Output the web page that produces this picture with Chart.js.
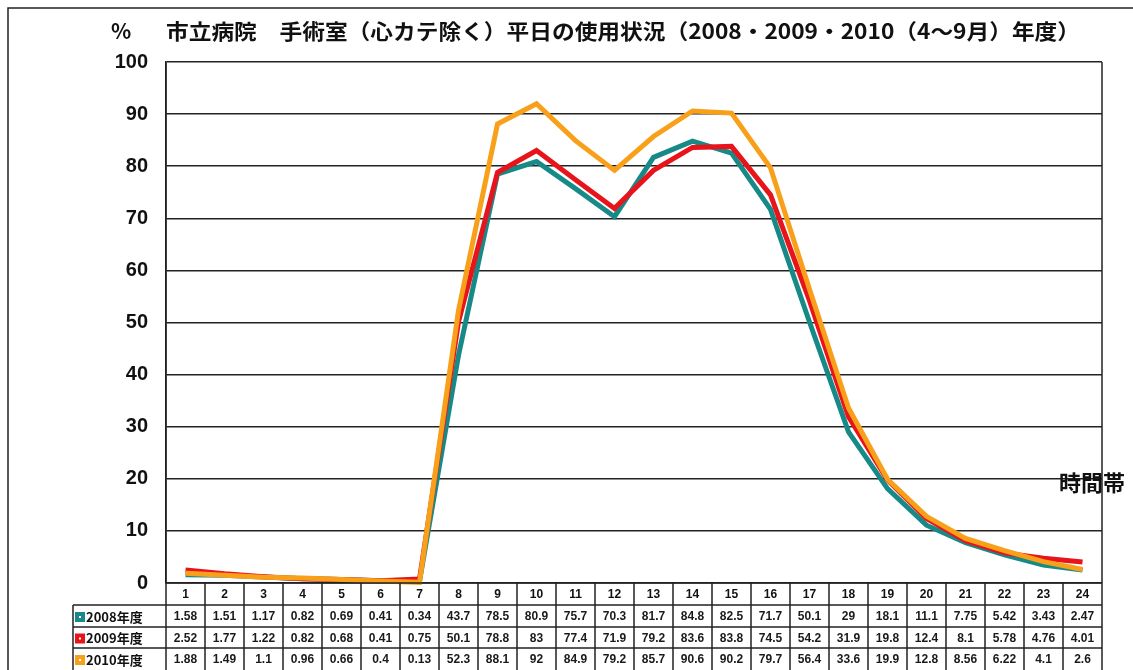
<!DOCTYPE html>
<html><head><meta charset="utf-8">
<script src="https://cdn.jsdelivr.net/npm/chart.js@4/dist/chart.umd.min.js"></script>
<style>html,body{margin:0;padding:0;background:#fff;}canvas{display:block;}</style>
</head><body>
<canvas id="c" width="1133" height="670"></canvas>
<script>
const hours = ['1','2','3','4','5','6','7','8','9','10','11','12','13','14','15','16','17','18','19','20','21','22','23','24'];
const y2008 = [1.58,1.51,1.17,0.82,0.69,0.41,0.34,43.7,78.5,80.9,75.7,70.3,81.7,84.8,82.5,71.7,50.1,29,18.1,11.1,7.75,5.42,3.43,2.47];
const y2009 = [2.52,1.77,1.22,0.82,0.68,0.41,0.75,50.1,78.8,83,77.4,71.9,79.2,83.6,83.8,74.5,54.2,31.9,19.8,12.4,8.1,5.78,4.76,4.01];
const y2010 = [1.88,1.49,1.1,0.96,0.66,0.4,0.13,52.3,88.1,92,84.9,79.2,85.7,90.6,90.2,79.7,56.4,33.6,19.9,12.8,8.56,6.22,4.1,2.6];
const seriesNames = ['2008年度','2009年度','2010年度'];
const seriesColors = ['#178a88','#e8141c','#f8a01a'];
const titleUnit = '%';
const titleText = '市立病院　手術室（心カテ除く）平日の使用状況（2008・2009・2010（4～9月）年度）';
const xAxisTitle = '時間帯';
const yTicks = [0,10,20,30,40,50,60,70,80,90,100];

const seriesData = [y2008, y2009, y2010];
const fmt = v => String(v);

const tablePlugin = {
  id: 'tablePlugin',
  afterDraw(chart) {
    const ctx = chart.ctx;
    const ca = chart.chartArea;
    const xs = chart.scales.x;
    const n = hours.length;
    const colW = (ca.right - ca.left) / n;
    const top = ca.bottom;
    const rowY = [top, top + 22, top + 44, top + 65, 670];
    ctx.save();
    ctx.strokeStyle = '#222';
    ctx.lineWidth = 1.5;
    ctx.beginPath();
    ctx.moveTo(8, 670); ctx.lineTo(8, 8); ctx.lineTo(1133, 8);
    ctx.stroke();
    ctx.beginPath();
    ctx.moveTo(ca.right, ca.top); ctx.lineTo(ca.right, 670);
    ctx.stroke();
    ctx.beginPath();
    ctx.moveTo(ca.left, ca.top); ctx.lineTo(ca.left, 670);
    ctx.stroke();
    const labelLeft = 73;
    ctx.beginPath();
    ctx.moveTo(ca.left, rowY[0]); ctx.lineTo(ca.right, rowY[0]);
    for (let r = 1; r < 4; r++) { ctx.moveTo(labelLeft, rowY[r]); ctx.lineTo(ca.right, rowY[r]); }
    ctx.moveTo(labelLeft, rowY[1]); ctx.lineTo(labelLeft, 670);
    for (let i = 1; i < n; i++) {
      const x = ca.left + i * colW;
      ctx.moveTo(x, rowY[0]); ctx.lineTo(x, 670);
    }
    ctx.stroke();
    ctx.fillStyle = '#111';
    ctx.textAlign = 'center';
    ctx.textBaseline = 'middle';
    ctx.font = 'bold 12px "Liberation Sans", Arial, sans-serif';
    hours.forEach((h, i) => {
      const x = xs.getPixelForValue(i);
      ctx.fillText(h, x, (rowY[0] + rowY[1]) / 2 + 1);
    });
    const valFont = 'bold 12px "Liberation Sans", Arial, sans-serif';
    ctx.font = valFont;
    seriesData.forEach((arr, r) => {
      const cy = (rowY[r + 1] + rowY[r + 2]) / 2 + 1;
      ctx.fillStyle = '#1a1a1a';
      arr.forEach((v, i) => {
        const x = xs.getPixelForValue(i);
        ctx.fillText(fmt(v), x, cy);
      });
      const mx = 75, my = cy - 5;
      ctx.fillStyle = seriesColors[r];
      ctx.fillRect(mx, my, 10, 10);
      ctx.fillStyle = '#fff';
      ctx.fillRect(mx + 4, my + 4, 2, 2);
      ctx.fillStyle = '#111';
      ctx.textAlign = 'left';
      ctx.font = 'bold 13px "Noto Sans CJK JP", sans-serif';
      ctx.fillText(seriesNames[r], 86, cy);
      ctx.textAlign = 'center';
      ctx.font = valFont;
    });
    ctx.fillStyle = '#111';
    ctx.textAlign = 'left';
    ctx.textBaseline = 'middle';
    ctx.font = 'bold 21px "Noto Sans CJK JP", sans-serif';
    ctx.fillText(titleUnit, 111, 31);
    const w = ctx.measureText(titleText).width;
    const target = 1080 - 166;
    ctx.save();
    ctx.translate(166, 31);
    ctx.scale(target / w, 1);
    ctx.fillText(titleText, 0, 0);
    ctx.restore();
    ctx.font = 'bold 22px "Noto Sans CJK JP", sans-serif';
    ctx.fillText(xAxisTitle, 1059, 483);
    ctx.restore();
  }
};

new Chart(document.getElementById('c'), {
  type: 'line',
  data: {
    labels: hours,
    datasets: seriesData.map((d, i) => ({
      label: seriesNames[i],
      data: d,
      borderColor: seriesColors[i],
      backgroundColor: seriesColors[i],
      borderWidth: 5,
      pointRadius: 0,
      tension: 0,
      clip: false,
      order: 3 - i,
      borderJoinStyle: 'miter'
    }))
  },
  options: {
    responsive: false,
    animation: false,
    layout: { padding: { left: 0, right: 31, top: 62, bottom: 87 } },
    plugins: { legend: { display: false }, title: { display: false }, tooltip: { enabled: false } },
    scales: {
      x: {
        type: 'category',
        offset: true,
        ticks: { display: false },
        grid: { display: false, drawTicks: false },
        border: { display: false },
        afterFit: s => { s.height = 0; }
      },
      y: {
        min: 0, max: 100,
        afterFit: s => { s.width = 166; },
        afterBuildTicks: s => { s.ticks = yTicks.map(v => ({ value: v })); },
        ticks: {
          padding: 18,
          color: '#111',
          font: { family: '"Liberation Sans", Arial, sans-serif', size: 20, weight: 'bold' }
        },
        grid: { color: '#222', lineWidth: 1.5, drawTicks: false },
        border: { display: true, color: '#222', width: 1.5 }
      }
    }
  },
  plugins: [tablePlugin]
});
</script>
</body></html>
